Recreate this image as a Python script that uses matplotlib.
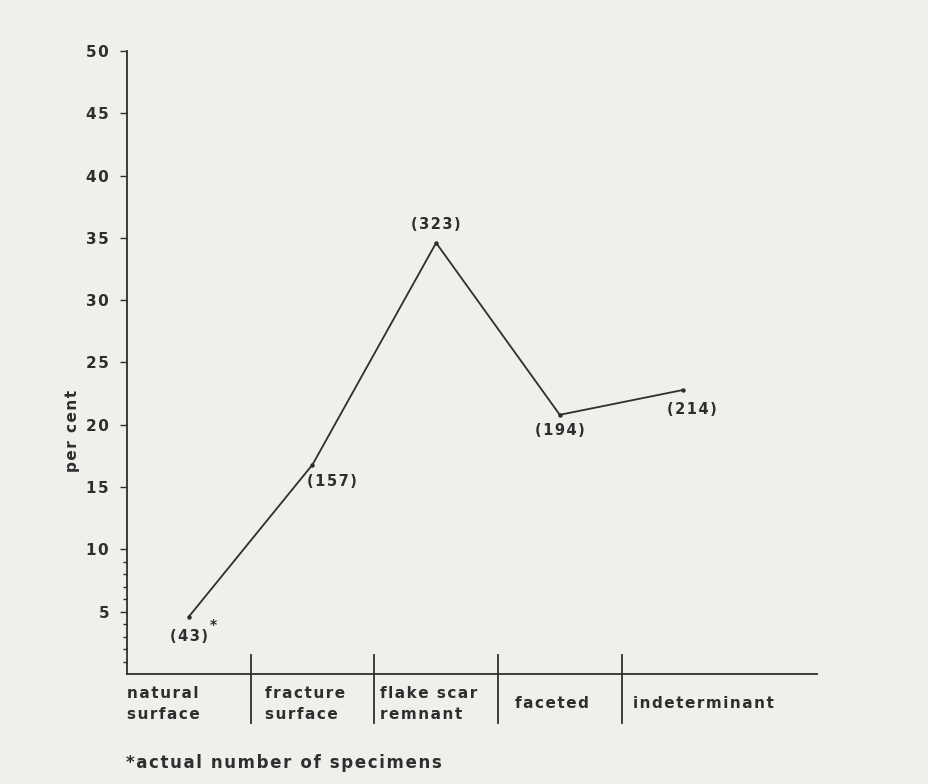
import matplotlib
matplotlib.use('Agg')
import matplotlib.pyplot as plt

# data
categories = ['natural\nsurface', 'fracture\nsurface', 'flake scar\nremnant',
              'faceted', 'indeterminant']
percent = [4.6, 16.8, 34.6, 20.8, 22.8]
counts = [43, 157, 323, 194, 214]
yticks = [5, 10, 15, 20, 25, 30, 35, 40, 45, 50]
minor_yticks = [1, 2, 3, 4, 6, 7, 8, 9]

BG = '#efefec'
INK = '#2e2e2e'
FONT = 'DejaVu Sans'


def spaced(s, gap='\u200a'):
    """Widen letter spacing like the typewriter-ish original."""
    return '\n'.join(gap.join(line) for line in s.split('\n'))


fig = plt.figure(figsize=(9.29, 7.84), dpi=100, facecolor=BG)
ax = fig.add_axes([0.1367, 0.1403, 0.7427, 0.7947], facecolor=BG)

x = list(range(len(categories)))
ax.plot(x, percent, color=INK, lw=1.3, marker='o', ms=2.2)

ax.set_xlim(-0.5, 5.08)
ax.set_ylim(0, 50)
for s in ['top', 'right']:
    ax.spines[s].set_visible(False)
for s in ['left', 'bottom']:
    ax.spines[s].set_color(INK)
    ax.spines[s].set_linewidth(1.3)

ax.set_xticks([])
ax.set_yticks(yticks)
ax.set_yticklabels([spaced(str(t)) for t in yticks])
ax.set_yticks(minor_yticks, minor=True)
ax.tick_params(axis='y', which='major', length=5, width=1, color=INK,
               labelcolor=INK, pad=8)
ax.tick_params(axis='y', which='minor', length=3, width=1, color=INK)
for lab in ax.get_yticklabels():
    lab.set_fontfamily(FONT)
    lab.set_fontweight('bold')
    lab.set_fontsize(11)

ax.set_ylabel(spaced('per cent'), fontsize=11, fontweight='bold', color=INK,
              family=FONT)
ax.yaxis.set_label_coords(-0.068, 0.39)

# category dividers below the axis
for d in [0.5, 1.5, 2.5, 3.5]:
    ax.plot([d, d], [1.5, -3.9], color=INK, lw=1.3, clip_on=False)

# category labels (left aligned inside each box)
label_x = [-0.5, 0.62, 1.55, 2.64, 3.59]
for lx, name in zip(label_x, categories):
    ax.text(lx, -2.4, spaced(name), ha='left', va='center', fontsize=11,
            fontweight='bold', color=INK, family=FONT, linespacing=1.45)

# specimen counts next to each point
offsets = [(0, -14, 'center'), (-4, -12, 'left'), (0, 13, 'center'),
           (0, -11, 'center'), (6, -14, 'center')]
for xi, yi, n, (dx, dy, ha) in zip(x, percent, counts, offsets):
    ax.annotate(spaced(f'({n})'), (xi, yi), xytext=(dx, dy),
                textcoords='offset points', ha=ha, va='center',
                fontsize=10.5, fontweight='bold', color=INK, family=FONT)
ax.annotate('*', (x[0], percent[0]), xytext=(18, -6), textcoords='offset points',
            ha='center', va='center', fontsize=10, fontweight='bold',
            color=INK, family=FONT)

fig.text(0.136, 0.027, spaced('*actual number of specimens'), ha='left',
         va='center', fontsize=12, fontweight='bold', color=INK, family=FONT)

fig.savefig('out.png', dpi=100, facecolor=BG)
